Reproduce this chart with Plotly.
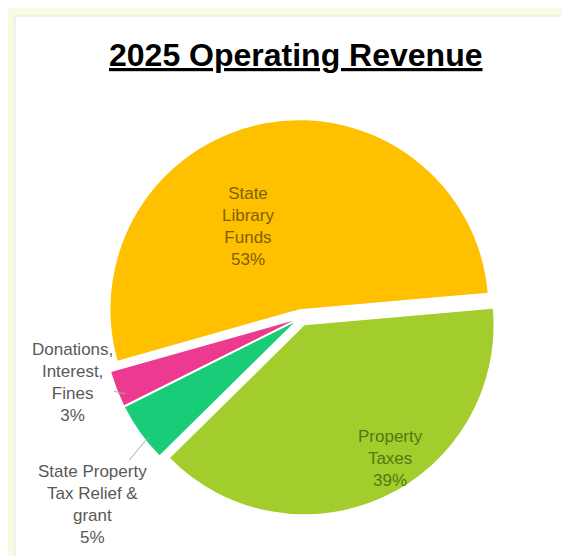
import math
import plotly.graph_objects as go

# ---- data ----
categories = ["Property Taxes", "State Property Tax Relief & grant",
              "Donations, Interest, Fines", "State Library Funds"]
values = [39, 5, 3, 53]
display_text = ["Property<br>Taxes", "State Property<br>Tax Relief &<br>grant",
                "Donations,<br>Interest,<br>Fines", "State<br>Library<br>Funds"]
colors = ["#A3CD2C", "#19CC78", "#EC3A90", "#FFC000"]
label_colors = ["#4F7A12", "#595959", "#595959", "#7F6000"]
outside_slices = [1, 2]
title_text = "2025 Operating Revenue"

# ---- layout settings (pixels) ----
W, H = 570, 556
pull = 0.045
rotation = 85
dom_x = [0.1675, 0.8605]
dom_y = [0.088, 0.7984]
label_centers = {0: (382, 450), 1: (84, 496), 2: (64, 374), 3: (240, 218)}
label_sizes = {0: 17, 1: 17, 2: 17, 3: 17}

fig = go.Figure(go.Pie(
    labels=categories,
    values=values,
    textinfo="none",
    marker=dict(colors=colors, line=dict(width=0)),
    sort=False,
    direction="clockwise",
    rotation=rotation,
    pull=pull,
    showlegend=False,
    domain=dict(x=dom_x, y=dom_y),
    hoverinfo="label+percent",
))

# pie geometry (pixels) for the leader lines of outside labels
cx = (dom_x[0] + dom_x[1]) / 2 * W + 6
cy = (1 - (dom_y[0] + dom_y[1]) / 2) * H + 6
R = min((dom_x[1] - dom_x[0]) * W, (dom_y[1] - dom_y[0]) * H) / (2 * (1 + pull))
total = sum(values)
cum = 0
for i, v in enumerate(values):
    start = cum
    cum += v
    pct = round(v / total * 100)
    txt = f"{display_text[i]}<br>{pct}%"
    lx, ly = label_centers[i]
    font = dict(family="Liberation Sans, Arial, sans-serif", size=label_sizes[i],
                color=label_colors[i])
    if i in outside_slices:
        mid = rotation + (start + v / 2) / total * 360
        a = math.radians(mid)
        d = R * (1 + pull) - 3
        px = cx + d * math.sin(a)
        py = cy - d * math.cos(a)
        fig.add_annotation(
            x=px / W, y=1 - py / H, xref="paper", yref="paper",
            text=txt, showarrow=True, arrowhead=0, arrowwidth=1,
            arrowcolor="#A6A6A6", ax=lx - px, ay=ly - py, standoff=0,
            font=font, align="center",
        )
    else:
        fig.add_annotation(
            x=lx / W, y=1 - ly / H, xref="paper", yref="paper",
            text=txt, showarrow=False, font=font, align="center",
            xanchor="center", yanchor="middle",
        )

fig.add_annotation(
    x=287 / W, y=1 - 47 / H, xref="paper", yref="paper",
    text=f"<b><u>{title_text}</u></b>", showarrow=False,
    font=dict(family="Liberation Sans, Arial, sans-serif", size=32, color="#000000"),
    xanchor="center", yanchor="middle",
)

fig.add_shape(type="rect", xref="paper", yref="paper",
              x0=7 / W, x1=563 / W, y0=-0.01, y1=1 - 8 / H,
              fillcolor="#FFFFFF", line=dict(color="#E6E6E6", width=1), layer="below")

fig.update_layout(
    width=W, height=H,
    margin=dict(l=0, r=0, t=0, b=0),
    paper_bgcolor="#FAFAE0",
    plot_bgcolor="#FFFFFF",
)

fig.write_html("out.html")
